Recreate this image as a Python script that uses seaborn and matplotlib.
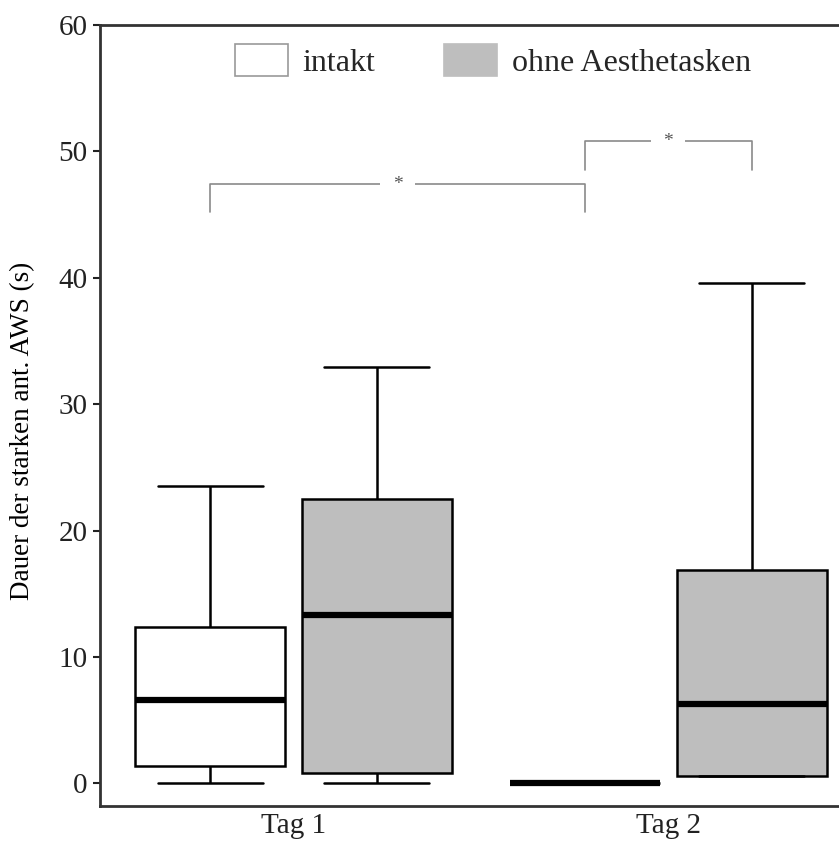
import numpy as np
import pandas as pd
import matplotlib
matplotlib.use("Agg")
import matplotlib.pyplot as plt
from matplotlib.patches import Patch
import seaborn as sns

sns.set_theme(style="white")
plt.rcParams['font.family'] = ['Liberation Serif', 'DejaVu Serif']

# Daten: Fuenf-Punkte-Zusammenfassung (min, Q1, Median, Q3, max) je Box
tage = ["Tag 1", "Tag 2"]
gruppen = ["intakt", "ohne Aesthetasken"]
tag1_intakt = [0.0, 1.4, 6.6, 12.4, 23.5]
tag1_ohne = [0.0, 0.8, 13.3, 22.5, 32.9]
tag2_intakt = [0.0, 0.0, 0.0, 0.0, 0.0]
tag2_ohne = [0.55, 0.55, 6.3, 16.9, 39.6]
farben = ["white", "#bebebe"]

# Signifikanz-Klammern: (Box links, Box rechts, Beinende, Hoehe)
klammern = [((0, 0), (1, 0), 45.2, 47.4), ((1, 0), (1, 1), 48.5, 50.8)]

rows = []
for tag, gruppe, werte in [("Tag 1", gruppen[0], tag1_intakt), ("Tag 1", gruppen[1], tag1_ohne),
                           ("Tag 2", gruppen[0], tag2_intakt), ("Tag 2", gruppen[1], tag2_ohne)]:
    for w in werte:
        rows.append({"Tag": tag, "Gruppe": gruppe, "Dauer": w})
df = pd.DataFrame(rows)

fig = plt.figure(figsize=(8.39, 8.49), dpi=100)
ax = fig.add_axes([0.119, 0.0506, 0.881, 0.92])

breite = 0.89
ax = sns.boxplot(data=df, x="Tag", y="Dauer", hue="Gruppe", order=tage, hue_order=gruppen,
                 palette=farben, width=breite, gap=0.1, whis=10, linecolor="black",
                 linewidth=1.8, legend=False, ax=ax,
                 medianprops=dict(linewidth=4.5, color="black"),
                 capwidths=0.28)

ax.set_ylim(-1.8, 60)
ax.set_xlim(-0.517, 1.456)
ax.set_yticks([0, 10, 20, 30, 40, 50, 60])
ax.set_xlabel("")
ax.set_ylabel("Dauer der starken ant. AWS (s)", fontsize=19.5, color="black")
ax.yaxis.set_label_coords(-0.088, 0.48)
ax.tick_params(axis="y", labelsize=21, length=5, width=1.5, left=True, colors="#222222", pad=4)
ax.tick_params(axis="x", labelsize=21, length=0, colors="#222222", pad=5)
for s in ["left", "bottom", "top"]:
    ax.spines[s].set_linewidth(2)
    ax.spines[s].set_color("#333333")
ax.spines["right"].set_visible(False)

# Klammern
versatz = breite / 4
for (a, b, bein, hoehe) in klammern:
    x1 = a[0] + (2 * a[1] - 1) * versatz
    x2 = b[0] + (2 * b[1] - 1) * versatz
    ax.plot([x1, x1, x2, x2], [bein, hoehe, hoehe, bein], color="#8a8a8a", lw=1.2)
    ax.text((x1 + x2) / 2, hoehe, "*", ha="center", va="center", fontsize=14, color="#555555",
            bbox=dict(facecolor="white", edgecolor="none", pad=9))

handles = [Patch(facecolor=farben[0], edgecolor="#999999", linewidth=1.2),
           Patch(facecolor=farben[1], edgecolor="#bebebe", linewidth=1.2)]
ax.legend(handles, gruppen, loc="upper center", bbox_to_anchor=(0.532, 1.0), ncol=2,
          frameon=False, fontsize=23, handlelength=1.65, handleheight=1.15,
          handletextpad=0.47, columnspacing=2.15, borderaxespad=0.2)

fig.savefig("out.png", dpi=100)
